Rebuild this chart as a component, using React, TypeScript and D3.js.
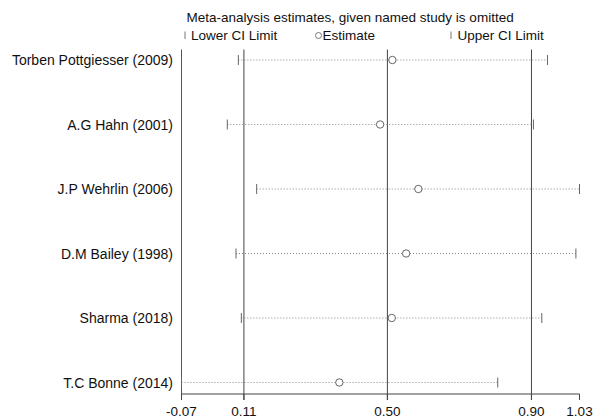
import React from "react";
import * as d3 from "d3";

const studies = [
  "Torben Pottgiesser (2009)",
  "A.G Hahn (2001)",
  "J.P Wehrlin (2006)",
  "D.M Bailey (1998)",
  "Sharma (2018)",
  "T.C Bonne (2014)",
];
const lowerCI = [0.0907, 0.0604, 0.141, 0.0843, 0.0989, -0.0654];
const estimates = [0.5137, 0.48, 0.585, 0.5514, 0.512, 0.368];
const upperCI = [0.9396, 0.901, 1.0275, 1.0176, 0.924, 0.803];

const tickValues = [-0.0654, 0.106, 0.5, 0.8956, 1.0275];
const tickLabels = ["-0.07", "0.11", "0.50", "0.90", "1.03"];
const refLines = [0.106, 0.5, 0.8956];

const W = 596;
const H = 419;
const FONT = "Arial, 'Liberation Sans', sans-serif";

export default function App() {
  const x = d3.scaleLinear().domain([tickValues[0], tickValues[4]]).range([181.5, 579.5]);
  const y = d3.scaleLinear().domain([0, studies.length - 1]).range([60, 382.5]);
  const top = 49.5;
  const axisY = 394;
  const tickLen = 6;

  return (
    <svg
      width={W}
      height={H}
      style={{ position: "absolute", left: 0, top: 0, background: "#fff" }}
      fontFamily={FONT}
    >
      <rect x={0} y={0} width={W} height={H} fill="#fff" />
      {/* title & legend */}
      <text x={186.5} y={22} fontSize={13.5} fill="#111">
        Meta-analysis estimates, given named study is omitted
      </text>
      <line x1={185} x2={185} y1={31.5} y2={39} stroke="#777" strokeWidth={1} />
      <text x={191} y={39.5} fontSize={13.5} fill="#111">Lower CI Limit</text>
      <circle cx={318.5} cy={35.5} r={3} fill="none" stroke="#666" strokeWidth={0.9} />
      <text x={322.5} y={39.5} fontSize={13.5} fill="#111">Estimate</text>
      <line x1={451} x2={451} y1={31.5} y2={39} stroke="#777" strokeWidth={1} />
      <text x={457.5} y={39.5} fontSize={13.5} fill="#111">Upper CI Limit</text>

      {/* left border */}
      <line x1={x(tickValues[0])} x2={x(tickValues[0])} y1={top} y2={axisY + tickLen} stroke="#555" />
      {/* reference lines */}
      {refLines.map((v, i) => (
        <line key={"r" + i} x1={x(v)} x2={x(v)} y1={top} y2={axisY + tickLen} stroke="#444" />
      ))}
      {/* x axis */}
      <line x1={x(tickValues[0])} x2={x(tickValues[4])} y1={axisY} y2={axisY} stroke="#444" />
      {tickValues.map((v, i) => (
        <g key={"t" + i}>
          <line x1={x(v)} x2={x(v)} y1={axisY} y2={axisY + tickLen} stroke="#444" />
          <text x={x(v)} y={415.5} fontSize={13.5} textAnchor="middle" fill="#111">
            {tickLabels[i]}
          </text>
        </g>
      ))}

      {/* rows */}
      {studies.map((s, i) => {
        const cy = y(i);
        return (
          <g key={s}>
            <text x={173} y={cy + 5} fontSize={14} textAnchor="end" fill="#111">
              {s}
            </text>
            <line
              x1={x(lowerCI[i])}
              x2={x(upperCI[i])}
              y1={cy}
              y2={cy}
              stroke="#888"
              strokeWidth={1}
              strokeDasharray="1 2"
            />
            <line x1={x(lowerCI[i])} x2={x(lowerCI[i])} y1={cy - 5} y2={cy + 5} stroke="#666" />
            <line x1={x(upperCI[i])} x2={x(upperCI[i])} y1={cy - 5} y2={cy + 5} stroke="#666" />
            <circle cx={x(estimates[i])} cy={cy} r={3.7} fill="#fff" stroke="#666" strokeWidth={1} />
          </g>
        );
      })}
    </svg>
  );
}
